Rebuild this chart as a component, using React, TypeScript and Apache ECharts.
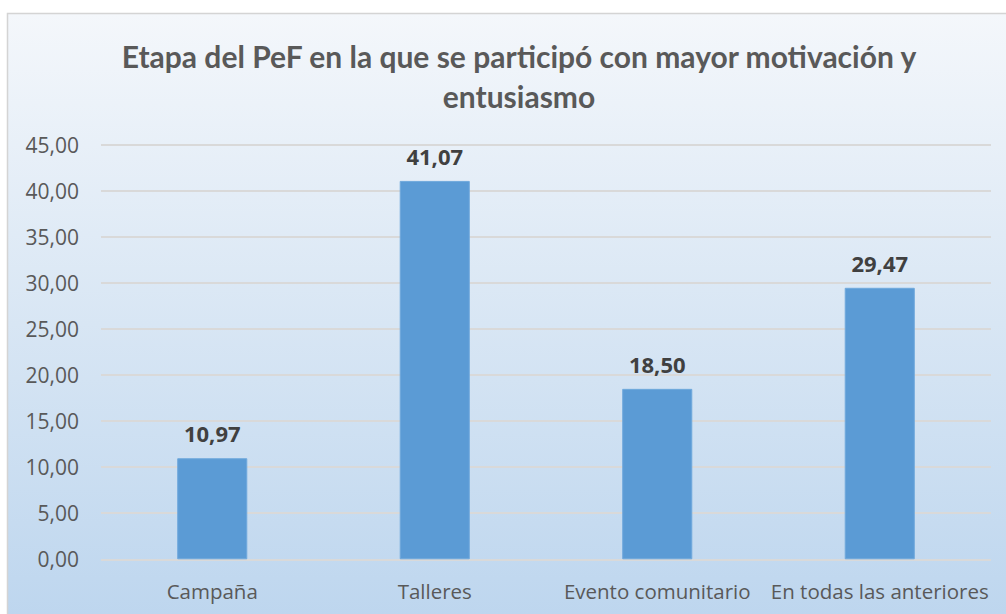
import React, { useEffect, useRef } from "react";
import * as echarts from "echarts";

const titleText = "Etapa del PeF en la que se participó con mayor motivación y\nentusiasmo";
const categories = ["Campaña", "Talleres", "Evento comunitario", "En todas las anteriores"];
const values = [10.97, 41.07, 18.5, 29.47];
const yMin = 0;
const yMax = 45;
const yInterval = 5;

const fmt = (v: number) => v.toFixed(2).replace(".", ",");

export default function App() {
  const ref = useRef<HTMLDivElement>(null);
  useEffect(() => {
    const chart = echarts.init(ref.current!, null, { renderer: "svg" });
    chart.setOption({
      animation: false,
      backgroundColor: "#ffffff",
      graphic: [
        {
          type: "rect",
          z: -10,
          shape: { x: 7.5, y: 13.5, width: 1010, height: 620 },
          style: {
            fill: new echarts.graphic.LinearGradient(0, 0, 0, 1, [
              { offset: 0, color: "#f4f7fb" },
              { offset: 0.5, color: "#d8e6f4" },
              { offset: 1, color: "#bcd5ee" },
            ]),
            stroke: "#d4d4d4",
            lineWidth: 1.5,
          },
        },
      ],
      title: {
        text: titleText,
        left: 514,
        textAlign: "center",
        top: 31,
        textStyle: {
          fontFamily: "Lato",
          fontWeight: "bold",
          fontSize: 30,
          lineHeight: 40,
          color: "#595959",
        },
      },
      grid: { left: 101, right: 15, top: 144.7, bottom: 54.7, containLabel: false },
      xAxis: {
        type: "category",
        data: categories,
        axisLine: { show: false },
        axisTick: { show: false },
        axisLabel: {
          color: "#595959",
          fontFamily: "Open Sans",
          fontSize: 20.5,
          margin: 21,
          interval: 0,
        },
      },
      yAxis: {
        type: "value",
        min: yMin,
        max: yMax,
        interval: yInterval,
        axisLine: { show: false },
        axisTick: { show: false },
        axisLabel: {
          color: "#595959",
          fontFamily: "Open Sans",
          fontSize: 21,
          margin: 22,
          formatter: (v: number) => fmt(v),
        },
        splitLine: { lineStyle: { color: "#d9d9d9", width: 2 } },
      },
      series: [
        {
          type: "bar",
          data: values,
          barWidth: "31.5%",
          itemStyle: { color: "#5b9bd5", borderColor: "#70a9dc", borderWidth: 1 },
          label: {
            show: true,
            position: "top",
            distance: 14,
            formatter: (p: any) => fmt(p.value),
            color: "#404040",
            fontFamily: "Open Sans",
            fontWeight: "bold",
            fontSize: 22,
          },
        },
      ],
    });
    return () => chart.dispose();
  }, []);
  return (
    <div
      ref={ref}
      style={{ position: "absolute", left: 0, top: 0, width: 1006, height: 614 }}
    />
  );
}
